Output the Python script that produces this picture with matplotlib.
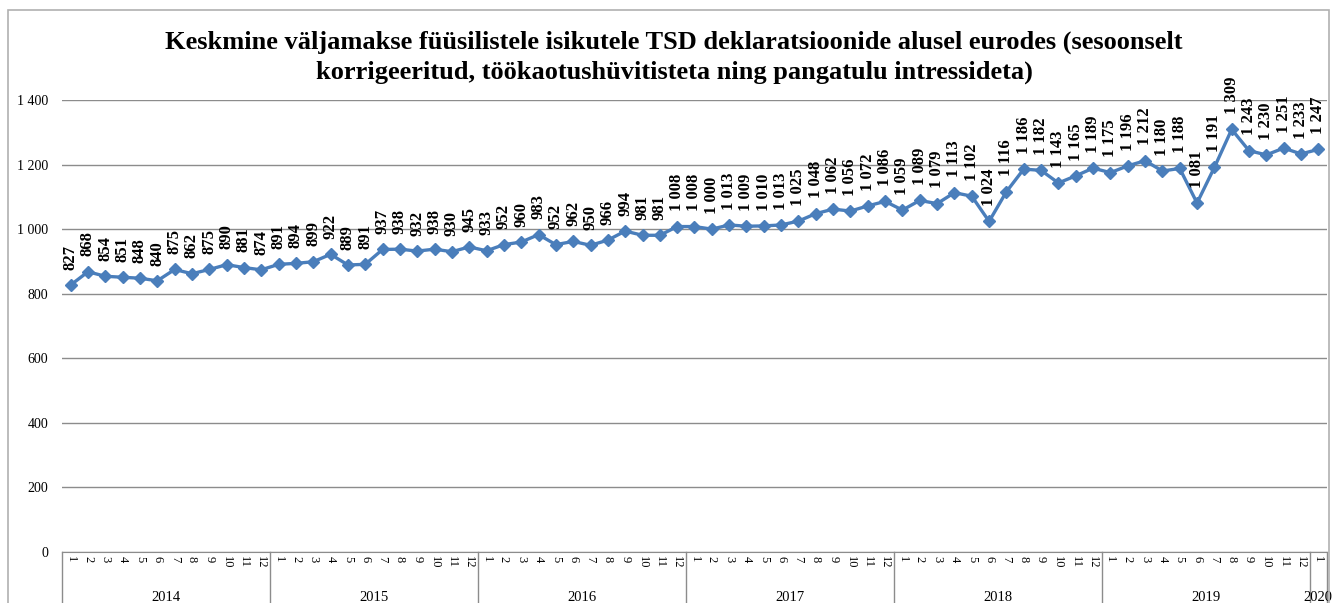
import matplotlib.pyplot as plt
from matplotlib.patches import Rectangle
import matplotlib.transforms as mtransforms

years = ["2014", "2015", "2016", "2017", "2018", "2019", "2020"]
months_per_year = [12, 12, 12, 12, 12, 12, 1]
values = [
    827, 868, 854, 851, 848, 840, 875, 862, 875, 890, 881, 874,
    891, 894, 899, 922, 889, 891, 937, 938, 932, 938, 930, 945,
    933, 952, 960, 983, 952, 962, 950, 966, 994, 981, 981, 1008,
    1008, 1000, 1013, 1009, 1010, 1013, 1025, 1048, 1062, 1056, 1072, 1086,
    1059, 1089, 1079, 1113, 1102, 1024, 1116, 1186, 1182, 1143, 1165, 1189,
    1175, 1196, 1212, 1180, 1188, 1081, 1191, 1309, 1243, 1230, 1251, 1233,
    1247,
]
title = ("Keskmine väljamakse füüsilistele isikutele TSD deklaratsioonide alusel eurodes (sesoonselt\n"
         "korrigeeritud, töökaotushüvitisteta ning pangatulu intressideta)")

month_labels = []
for n in months_per_year:
    month_labels += [str(m) for m in range(1, n + 1)]
x = list(range(len(values)))

plt.rcParams['font.family'] = ['Liberation Serif', 'DejaVu Serif']

fig = plt.figure(figsize=(13.32, 6.03), dpi=100)
ax = fig.add_axes([62 / 1332, 51 / 603, 1265 / 1332, 452 / 603])

# outer chart border
fig.patches.append(Rectangle((8 / 1332, -0.05), 1321 / 1332, 1.05 - 10 / 603,
                             transform=fig.transFigure, fill=False,
                             edgecolor='#b0b0b0', linewidth=1.2))

ax.plot(x, values, color='#4a7ebb', linewidth=2.4, marker='D', markersize=6.5,
        markerfacecolor='#4a7ebb', markeredgecolor='#4a7ebb', zorder=3)

for xi, v in zip(x, values):
    lab = f"{v:,}".replace(",", " ")
    ax.annotate(lab, (xi, v), xytext=(0, 11), textcoords='offset points',
                rotation=90, ha='center', va='bottom', fontsize=12,
                fontweight='bold', color='black')

ax.set_xlim(-0.5, len(values) - 0.5)
ax.set_ylim(0, 1400)
ax.set_yticks(range(0, 1401, 200))
ax.set_yticklabels([f"{t:,}".replace(",", " ") for t in range(0, 1401, 200)], fontsize=10)
ax.yaxis.grid(True, color='#8c8c8c', linewidth=1)
ax.set_axisbelow(True)
ax.tick_params(axis='y', length=0, pad=10)

ax.set_xticks(x)
ax.set_xticklabels(month_labels, rotation=270, fontsize=9)
ax.tick_params(axis='x', length=0, pad=3)

for s in ['left', 'right', 'top']:
    ax.spines[s].set_visible(False)
ax.spines['bottom'].set_color('#8c8c8c')

# year table below the axis
trans = mtransforms.blended_transform_factory(ax.transData, ax.transAxes)
start = 0
edges = [-0.5]
for yr, n in zip(years, months_per_year):
    center = start + (n - 1) / 2
    ax.text(center, -0.1, yr, transform=trans, ha='center', va='center', fontsize=10.5)
    start += n
    edges.append(start - 0.5)
for e in edges:
    ax.plot([e, e], [0, -0.2], transform=trans, color='#8c8c8c', linewidth=1, clip_on=False)

fig.text(0.506, 0.905, title, ha='center', va='center', fontsize=19,
         fontweight='bold', linespacing=1.4)

fig.savefig("out.png", dpi=100)
